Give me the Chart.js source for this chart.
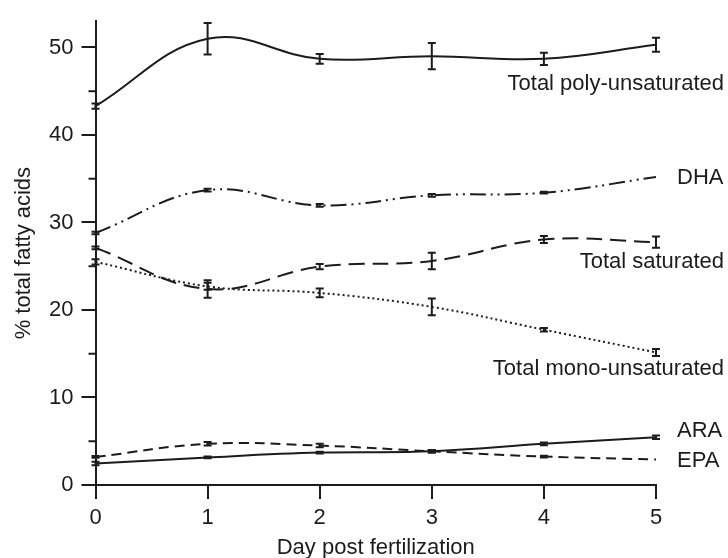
<!DOCTYPE html>
<html>
<head>
<meta charset="utf-8">
<style>
  html, body { margin: 0; padding: 0; background: #fff; }
  #wrap { width: 728px; height: 558px; }
</style>
</head>
<body>
<div id="wrap"><canvas id="chart" width="728" height="558"></canvas></div>

<script src="https://cdn.jsdelivr.net/npm/chart.js"></script>

<script>
// data
var days = [0, 1, 2, 3, 4, 5];

var polyVals = [43.3, 51.0, 48.7, 49.0, 48.7, 50.3];
var polyErr  = [0.3, 1.8, 0.55, 1.5, 0.7, 0.8];

var dhaVals = [28.8, 33.7, 31.95, 33.1, 33.4, 35.2];
var dhaErr  = [0.15, 0.15, 0.15, 0.15, 0.1, 0];

var satVals = [27.1, 22.4, 24.95, 25.6, 28.05, 27.75];
var satErr  = [0.15, 1.0, 0.3, 0.95, 0.4, 0.65];

var monoVals = [25.5, 22.7, 21.95, 20.35, 17.75, 15.15];
var monoErr  = [0.3, 0.4, 0.5, 0.95, 0.2, 0.4];

var araVals = [2.45, 3.15, 3.7, 3.85, 4.7, 5.45];
var araErr  = [0.2, 0.1, 0.1, 0.15, 0.15, 0.2];

var epaVals = [3.2, 4.7, 4.5, 3.85, 3.25, 2.92];
var epaErr  = [0.1, 0.2, 0.2, 0.15, 0.1, 0];

var seriesNames = ['Total poly-unsaturated', 'DHA', 'Total saturated', 'Total mono-unsaturated', 'ARA', 'EPA'];
var yTicks = [0, 10, 20, 30, 40, 50];
var yMinorTicks = [5, 15, 25, 35, 45];

var ink = '#1c1c1c';
var fontFam = '"Liberation Sans", Arial, Helvetica, sans-serif';
var fontSize = 22;

function pts(vals) {
	return vals.map(function (v, i) { return { x: days[i], y: v }; });
}

// line styles and where each name sits next to its curve
var styles = [
	{ dash: [],                     side: 'right', dy: 39 },
	{ dash: [16, 5, 2, 5, 2, 5],    side: 'left',  dy: 1 },
	{ dash: [16, 8],                side: 'right', dy: 20 },
	{ dash: [2, 3],                 side: 'right', dy: 17 },
	{ dash: [],                     side: 'left',  dy: -6 },
	{ dash: [10, 6],                side: 'left',  dy: 1 }
];
var allVals = [polyVals, dhaVals, satVals, monoVals, araVals, epaVals];
var allErr = [polyErr, dhaErr, satErr, monoErr, araErr, epaErr];

var datasets = seriesNames.map(function (name, k) {
	return {
		label: name,
		data: pts(allVals[k]),
		errors: allErr[k],
		borderColor: ink,
		borderWidth: 2,
		borderDash: styles[k].dash,
		pointRadius: 0,
		tension: 0.4,
		fill: false
	};
});

var extras = {
	id: 'extras',
	afterDatasetsDraw: function (chart) {
		var ctx = chart.ctx, xs = chart.scales.x, ys = chart.scales.y;
		ctx.save();
		ctx.strokeStyle = ink;
		ctx.lineWidth = 2;
		ctx.setLineDash([]);

		// error bars
		chart.data.datasets.forEach(function (ds) {
			ds.errors.forEach(function (e, i) {
				if (!e) return;
				var px = xs.getPixelForValue(ds.data[i].x);
				var top = ys.getPixelForValue(ds.data[i].y + e);
				var bot = ys.getPixelForValue(ds.data[i].y - e);
				ctx.beginPath();
				ctx.moveTo(px, top); ctx.lineTo(px, bot);
				ctx.moveTo(px - 4, top); ctx.lineTo(px + 4, top);
				ctx.moveTo(px - 4, bot); ctx.lineTo(px + 4, bot);
				ctx.stroke();
			});
		});

		// minor ticks on y
		var left = chart.chartArea.left;
		yMinorTicks.forEach(function (v) {
			var py = ys.getPixelForValue(v);
			ctx.beginPath();
			ctx.moveTo(left - 7, py); ctx.lineTo(left, py);
			ctx.stroke();
		});

		// names at the ends of the curves
		ctx.fillStyle = ink;
		ctx.font = fontSize + 'px ' + fontFam;
		ctx.textBaseline = 'middle';
		chart.data.datasets.forEach(function (ds, k) {
			var last = ds.data[ds.data.length - 1];
			var py = ys.getPixelForValue(last.y) + styles[k].dy;
			if (styles[k].side === 'right') {
				ctx.textAlign = 'right';
				ctx.fillText(ds.label, chart.width - 4, py);
			} else {
				ctx.textAlign = 'left';
				ctx.fillText(ds.label, xs.getPixelForValue(last.x) + 21, py);
			}
		});
		ctx.restore();
	}
};

new Chart(document.getElementById('chart'), {
	type: 'line',
	data: { datasets: datasets },
	plugins: [extras],
	options: {
		responsive: false,
		animation: false,
		layout: { padding: { top: 13, right: 72, left: 11, bottom: 0 } },
		plugins: {
			legend: { display: false },
			tooltip: { enabled: false }
		},
		scales: {
			x: {
				type: 'linear',
				min: 0,
				max: 5,
				ticks: { stepSize: 1, color: ink, padding: 6, font: { family: fontFam, size: fontSize } },
				grid: { drawOnChartArea: false, tickLength: 14, color: ink, lineWidth: 2 },
				border: { color: ink, width: 2 },
				title: { display: true, text: 'Day post fertilization', color: ink, padding: { top: 2, bottom: 0 }, font: { family: fontFam, size: fontSize, lineHeight: 0.9 } },
				afterFit: function (s) { s.height = 73; }
			},
			y: {
				type: 'linear',
				min: 0,
				max: 53,
				ticks: { stepSize: 10, color: ink, padding: 8, font: { family: fontFam, size: fontSize } },
				afterBuildTicks: function (s) {
					s.ticks = s.ticks.filter(function (t) { return yTicks.indexOf(t.value) >= 0; });
				},
				grid: { drawOnChartArea: false, tickLength: 14, color: ink, lineWidth: 2 },
				border: { color: ink, width: 2 },
				title: { display: true, text: '% total fatty acids', color: ink, padding: { top: 0, bottom: 0 }, font: { family: fontFam, size: fontSize } },
				afterFit: function (s) { s.width = 84.5; }
			}
		}
	}
});
</script>
</body>
</html>
